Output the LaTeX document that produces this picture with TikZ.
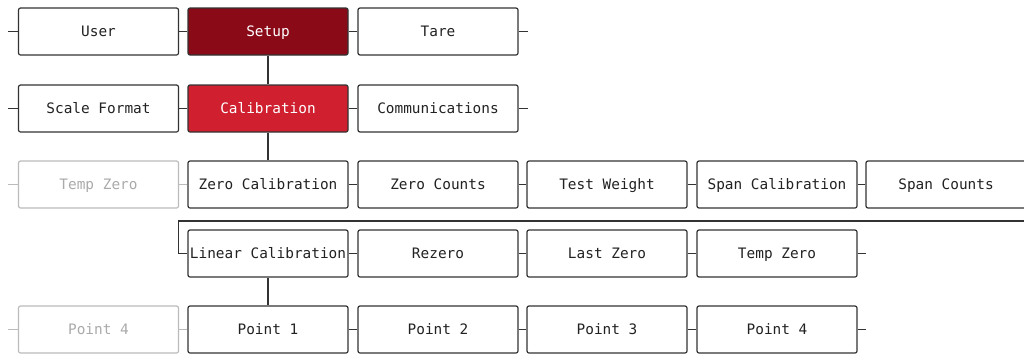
\documentclass[tikz,border=0pt]{standalone}
\usepackage{fontspec}
\newfontfamily\boxfont{DejaVu Sans Mono}
\begin{document}
\begin{tikzpicture}[x=1pt,y=-1pt,
  box/.style={draw=boxline,line width=1.2pt,rounded corners=2pt,fill=white,
    minimum width=160pt,minimum height=47pt,inner sep=0pt,
    text height=11.6pt,text depth=2pt,
    font=\boxfont\fontsize{14.4}{17}\selectfont,text=textc},
  faded/.style={box,draw=fadeline,text=fadetext},
  dark/.style={box,fill=setupred,text=white},
  bright/.style={box,fill=calred,text=white},
  link/.style={draw=boxline,line width=1.2pt},
  fadelink/.style={draw=fadeline,line width=1.2pt}]
\definecolor{boxline}{HTML}{333333}
\definecolor{textc}{HTML}{222222}
\definecolor{fadeline}{HTML}{BBBBBB}
\definecolor{fadetext}{HTML}{AAAAAA}
\definecolor{setupred}{HTML}{8A0A18}
\definecolor{calred}{HTML}{D02030}
\useasboundingbox (0,0) rectangle (1024,354);
% row 1
\node[box] (user) at (98.5,31.5) {User};
\node[dark] (setup) at (268,31.5) {Setup};
\node[box] (tare) at (438,31.5) {Tare};
% row 2
\node[box] (scale) at (98.5,108.5) {Scale Format};
\node[bright] (cal) at (268,108.5) {Calibration};
\node[box] (comm) at (438,108.5) {Communications};
% row 3
\node[faded] (tz0) at (98.5,184.5) {Temp Zero};
\node[box] (zcal) at (268,184.5) {Zero Calibration};
\node[box] (zcnt) at (438,184.5) {Zero Counts};
\node[box] (tw) at (607,184.5) {Test Weight};
\node[box] (scal) at (777,184.5) {Span Calibration};
\node[box] (scnt) at (946,184.5) {Span Counts};
% row 4
\node[box] (lcal) at (268,253.5) {Linear Calibration};
\node[box] (rez) at (438,253.5) {Rezero};
\node[box] (lz) at (607,253.5) {Last Zero};
\node[box] (tz) at (777,253.5) {Temp Zero};
% row 5
\node[faded] (p40) at (98.5,329.5) {Point 4};
\node[box] (p1) at (268,329.5) {Point 1};
\node[box] (p2) at (438,329.5) {Point 2};
\node[box] (p3) at (607,329.5) {Point 3};
\node[box] (p4) at (777,329.5) {Point 4};
% free ends
\coordinate (l1) at (8,31.5);
\coordinate (r1) at (528,31.5);
\coordinate (l2) at (8,108.5);
\coordinate (r2) at (528,108.5);
\coordinate (l3) at (8,184.5);
\coordinate (r4) at (866,253.5);
\coordinate (l5) at (8,329.5);
\coordinate (r5) at (866,329.5);
\coordinate (wr) at (1030,221);
\coordinate (wl) at (178.5,221);
\coordinate (wd) at (178.5,253.5);
% connectors
\draw[link] (l1) -- (user.west);
\draw[link] (user.east) -- (setup.west);
\draw[link] (setup.east) -- (tare.west);
\draw[link] (tare.east) -- (r1);
\draw[link] (setup.south) -- (cal.north);
\draw[link] (l2) -- (scale.west);
\draw[link] (scale.east) -- (cal.west);
\draw[link] (cal.east) -- (comm.west);
\draw[link] (comm.east) -- (r2);
\draw[link] (cal.south) -- (zcal.north);
\draw[fadelink] (l3) -- (tz0.west);
\draw[fadelink] (tz0.east) -- (zcal.west);
\draw[link] (zcal.east) -- (zcnt.west);
\draw[link] (zcnt.east) -- (tw.west);
\draw[link] (tw.east) -- (scal.west);
\draw[link] (scal.east) -- (scnt.west);
\draw[link] (wr) -- (wl) -- (wd) -- (lcal.west);
\draw[link] (lcal.east) -- (rez.west);
\draw[link] (rez.east) -- (lz.west);
\draw[link] (lz.east) -- (tz.west);
\draw[link] (tz.east) -- (r4);
\draw[link] (lcal.south) -- (p1.north);
\draw[fadelink] (l5) -- (p40.west);
\draw[fadelink] (p40.east) -- (p1.west);
\draw[link] (p1.east) -- (p2.west);
\draw[link] (p2.east) -- (p3.west);
\draw[link] (p3.east) -- (p4.west);
\draw[link] (p4.east) -- (r5);
\end{tikzpicture}
\end{document}
